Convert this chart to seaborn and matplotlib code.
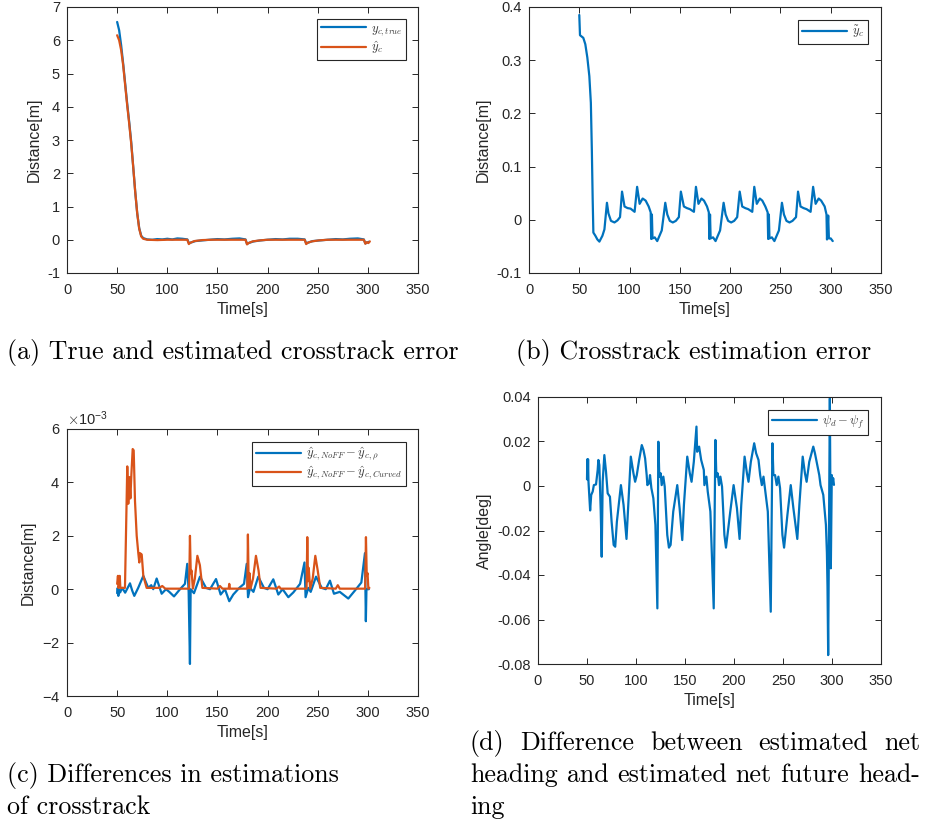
import matplotlib
matplotlib.use("Agg")
import numpy as np
import pandas as pd
import seaborn as sns
import matplotlib.pyplot as plt
from matplotlib.ticker import MultipleLocator, FuncFormatter, ScalarFormatter

# ---------------------------------------------------------------- data
# (a) true and estimated crosstrack error [m]
t_true = [50, 52, 54, 56, 58, 60, 62, 64, 66, 68,
          70, 72, 74, 76, 80, 85, 90, 95, 100, 105,
          110, 115, 120, 121.5, 124, 128, 135, 142, 150, 157,
          165, 172, 178, 179.5, 182, 186, 193, 200, 208, 215,
          222, 230, 237, 238.5, 241, 245, 252, 260, 268, 275,
          282, 290, 296, 297.5, 299, 301]
y_true = [6.55, 6.3, 5.85, 5.3, 4.7, 4.1, 3.55, 2.95, 2.2, 1.45,
          0.8, 0.35, 0.12, 0.05, 0.01, 0.0, 0.02, 0.01, 0.03, 0.01,
          0.04, 0.03, 0.01, -0.1, -0.08, -0.04, -0.02, 0.0, 0.02, 0.01,
          0.03, 0.04, 0.01, -0.12, -0.09, -0.05, -0.02, 0.0, 0.02, 0.01,
          0.03, 0.03, 0.01, -0.11, -0.08, -0.04, -0.02, 0.0, 0.02, 0.01,
          0.03, 0.04, 0.01, -0.11, -0.09, -0.06]

t_est = [50, 52, 54, 56, 58, 60, 62, 64, 66, 68,
         70, 72, 74, 76, 80, 90, 100, 110, 120, 121.5,
         123, 127, 135, 145, 160, 178, 179.5, 181, 185, 192,
         200, 215, 237, 238.5, 240, 244, 251, 260, 280, 296,
         297.5, 299, 300.5, 302]
y_est = [6.15, 6.0, 5.7, 5.25, 4.65, 4.05, 3.5, 2.9, 2.2, 1.45,
         0.8, 0.33, 0.1, 0.03, 0.0, -0.01, 0.0, 0.0, 0.0, -0.13,
         -0.09, -0.04, -0.01, 0.0, 0.0, 0.0, -0.14, -0.1, -0.05, -0.02,
         0.0, 0.0, 0.0, -0.13, -0.09, -0.05, -0.02, 0.0, 0.0, 0.0,
         -0.12, -0.07, -0.1, -0.05]

# (b) crosstrack estimation error [m]
t_err = [50.0, 50.7, 52.0, 54.0, 56.0, 58.0, 60.0, 61.5, 62.5, 63.3,
         64.0, 66.0, 68.0, 70.0, 73.0, 75.0, 77.5, 79.0, 81.5, 85.0,
         88.0, 90.5, 92.5, 95.0, 98.0, 101.0, 105.0, 107.5, 110.0, 113.0,
         116.0, 119.0, 121.0, 121.5, 122.2, 122.8, 125.0, 127.5, 132.0, 135.5,
         137.5, 140.0, 143.0, 146.0, 149.0, 151.0, 154.0, 157.0, 160.0, 164.0,
         166.0, 168.5, 171.5, 174.0, 177.0, 178.8, 179.3, 180.0, 180.6, 183.0,
         185.5, 190.0, 193.5, 195.5, 198.0, 201.0, 204.0, 207.0, 209.5, 212.0,
         215.0, 218.0, 222.0, 224.0, 226.5, 229.5, 232.0, 235.0, 237.3, 237.8,
         238.5, 239.1, 241.5, 244.0, 248.5, 251.5, 253.5, 256.0, 259.0, 262.0,
         265.5, 267.5, 270.0, 273.0, 276.0, 280.0, 282.5, 285.0, 288.0, 290.5,
         294.0, 295.8, 296.3, 297.5, 298.2, 300.0, 302.0]
y_err = [0.385, 0.347, 0.345, 0.342, 0.33, 0.305, 0.27, 0.22, 0.13, 0.04,
         -0.024, -0.03, -0.037, -0.041, -0.03, -0.018, 0.032, 0.012, -0.002, -0.005,
         -0.001, 0.005, 0.053, 0.025, 0.022, 0.021, 0.015, 0.062, 0.03, 0.04,
         0.036, 0.025, 0.014, -0.036, 0.01, -0.035, -0.033, -0.04, -0.02, 0.032,
         0.01, -0.002, -0.005, -0.002, 0.005, 0.053, 0.025, 0.022, 0.02, 0.015,
         0.062, 0.03, 0.04, 0.036, 0.025, 0.014, -0.036, 0.01, -0.035, -0.033,
         -0.04, -0.02, 0.032, 0.01, -0.002, -0.005, -0.002, 0.005, 0.053, 0.025,
         0.022, 0.02, 0.015, 0.062, 0.03, 0.04, 0.036, 0.025, 0.014, -0.036,
         0.01, -0.035, -0.033, -0.04, -0.02, 0.032, 0.01, -0.002, -0.005, -0.002,
         0.005, 0.053, 0.025, 0.022, 0.02, 0.015, 0.062, 0.03, 0.04, 0.036,
         0.025, 0.01, -0.037, 0.008, -0.035, -0.035, -0.04]

# (c) differences between estimators, in units of 1e-3 m
t_rho = [50.0, 50.6, 51.2, 51.8, 53.0, 55.0, 58.0, 60.5, 62.8, 65.0,
         67.1, 71.0, 76.1, 81.0, 84.0, 86.0, 89.4, 94.4, 98.7, 102.0,
         106.7, 112.7, 117.6, 119.9, 121.3, 122.6, 123.3, 126.6, 132.6, 138.6,
         142.6, 148.6, 153.2, 157.5, 161.8, 165.8, 171.8, 176.5, 179.2, 180.5,
         182.5, 185.9, 190.7, 196.4, 200.0, 205.7, 210.7, 215.0, 220.7, 225.7,
         232.4, 236.8, 237.9, 240.6, 243.0, 248.3, 254.0, 258.0, 262.2, 266.2,
         272.0, 280.5, 288.2, 293.5, 297.1, 298.0, 298.6, 301.0]
d_rho_milli = [-0.15, 0.05, -0.25, 0.0, -0.12, 0.05, -0.13, 0.05, 0.22, -0.05,
               -0.25, 0.05, 0.5, 0.05, 0.15, 0.0, 0.4, -0.17, 0.0, -0.1,
               -0.27, 0.0, 0.2, 0.95, -0.1, -2.8, 0.0, -0.15, 0.47, 0.05,
               0.0, 0.38, -0.2, 0.0, -0.45, -0.2, 0.05, 0.2, 0.95, -0.3,
               0.05, -0.1, 0.47, 0.05, 0.0, 0.37, -0.2, 0.0, -0.3, -0.12,
               0.2, 1.0, -0.3, 0.05, -0.1, 0.47, 0.05, 0.0, 0.32, -0.17,
               -0.1, -0.35, 0.0, 0.25, 1.35, -1.2, 0.0, 0.0]

t_curv = [50.0, 50.8, 51.3, 52.0, 52.6, 53.2, 57.8, 60.1, 61.1, 62.1,
          63.2, 64.2, 65.5, 66.5, 67.8, 69.5, 71.1, 72.1, 72.8, 74.5,
          76.1, 79.4, 92.0, 95.0, 98.0, 121.8, 122.6, 123.4, 124.2, 125.5,
          127.5, 130.0, 132.5, 135.0, 150.0, 152.5, 155.0, 161.2, 161.8, 162.5,
          179.8, 180.4, 181.2, 182.0, 183.0, 185.5, 188.4, 191.0, 193.0, 209.0,
          211.5, 213.0, 238.9, 239.6, 240.3, 241.0, 242.5, 245.0, 247.6, 250.0,
          252.5, 268.0, 270.0, 272.0, 297.3, 298.1, 298.9, 299.7, 300.5, 301.5]
d_curv_milli = [0.2, 0.5, 0.05, 0.15, 0.5, 0.05, 0.05, 4.6, 3.2, 4.2,
                3.4, 4.3, 5.25, 5.2, 3.3, 2.0, 1.35, 1.0, 1.35, 1.3,
                0.5, 0.05, 0.05, 0.12, 0.02, 0.02, 2.0, 0.6, 0.7, 0.02,
                0.4, 1.25, 0.9, 0.05, 0.02, 0.12, 0.02, 0.02, 0.2, 0.02,
                0.02, 2.05, 0.05, 0.6, 0.02, 0.4, 1.25, 0.7, 0.05, 0.02,
                0.1, 0.02, 0.02, 1.95, 0.3, 0.8, 0.02, 0.4, 1.25, 0.7,
                0.05, 0.02, 0.15, 0.02, 0.02, 1.95, 0.5, 0.6, 0.02, 0.05]

# (d) estimated net heading minus estimated net future heading [deg]
t_head = [50.0, 50.3, 50.7, 51.1, 51.5, 53.2, 54.3, 55.8, 57.0, 59.2,
          60.9, 61.6, 62.6, 64.0, 65.0, 66.0, 67.7, 69.4, 71.1, 73.4,
          75.1, 77.2, 78.8, 80.5, 84.6, 87.3, 90.3, 94.7, 97.4, 99.1,
          100.8, 103.2, 105.9, 107.6, 109.3, 110.9, 111.6, 113.3, 114.3, 115.7,
          117.7, 119.8, 121.8, 122.8, 123.8, 125.2, 126.2, 127.9, 129.3, 131.9,
          133.6, 135.3, 138.0, 142.1, 144.5, 147.2, 148.9, 152.3, 154.9, 156.7,
          159.0, 161.7, 162.4, 164.4, 166.5, 169.2, 169.8, 171.8, 173.2, 175.9,
          179.3, 181.0, 182.0, 183.4, 184.7, 186.1, 187.8, 190.2, 191.8, 196.2,
          199.6, 203.0, 205.7, 207.4, 210.8, 213.2, 214.8, 217.2, 220.6, 222.6,
          225.0, 226.7, 228.4, 230.1, 231.8, 234.5, 237.5, 239.2, 240.2, 241.9,
          243.6, 245.3, 247.0, 249.4, 251.1, 254.5, 257.9, 260.6, 264.6, 266.7,
          270.1, 272.4, 274.1, 276.8, 280.9, 282.6, 285.0, 287.0, 288.3, 291.1,
          293.8, 294.8, 295.4, 296.1, 297.8, 298.8, 299.8, 300.5, 301.2, 302.0]
d_head = [0.003, 0.012, 0.003, 0.012, 0.002, -0.011, -0.004, -0.0025, 0.0004, 0.0007,
          0.0072, 0.0117, 0.0094, -0.011, -0.0318, 0.002, 0.0139, 0.0064, -0.0033, -0.0048,
          -0.016, -0.0265, -0.0273, -0.016, 0.0004, -0.0085, -0.0238, 0.0132, 0.0057, 0.0019,
          0.0049, 0.0117, 0.0184, 0.0162, 0.0124, 0.0049, 0.0004, 0.0012, 0.0049, -0.001,
          -0.0055, -0.0175, -0.055, 0.0199, 0.0042, 0.0057, 0.0004, 0.0042, -0.0003, -0.022,
          -0.0277, -0.0265, -0.0115, 0.0004, -0.010, -0.0243, -0.0085, 0.0132, 0.0057, 0.0019,
          0.0109, 0.0267, 0.0154, 0.0177, 0.0117, 0.0072, 0.0004, 0.0042, -0.0025, -0.0115,
          -0.055, 0.0207, 0.0042, 0.0057, 0.0004, 0.0042, -0.0003, -0.022, -0.0277, -0.0115,
          0.0004, -0.010, -0.0238, -0.0085, 0.0132, 0.0057, 0.0019, 0.0109, 0.0192, 0.0147,
          0.0117, 0.0049, 0.0004, 0.0042, -0.0018, -0.0115, -0.0565, 0.0192, 0.0049, 0.0049,
          0.0004, 0.0042, -0.001, -0.022, -0.0277, -0.013, 0.0004, -0.010, -0.0238, -0.0085,
          0.0132, 0.0057, 0.0019, 0.0109, 0.0177, 0.0147, 0.0094, 0.0049, 0.0004, -0.004,
          -0.0175, -0.030, -0.045, -0.076, 0.0394, -0.037, 0.0049, 0.001, 0.0035, 0.0005]

x_ticks = [0, 50, 100, 150, 200, 250, 300, 350]

captions_a = "(a) True and estimated crosstrack error"
captions_b = "(b) Crosstrack estimation error"
captions_c = ["(c) Differences in estimations", "of crosstrack"]
captions_d = ["(d) Difference between estimated net",
              "heading and estimated net future head-",
              "ing"]

# ---------------------------------------------------------------- style
BLUE = "#0072BD"
ORANGE = "#D95319"
INK = "#262626"

sns.set_theme(style="ticks")
plt.rcParams.update({
    "font.family": ["Liberation Sans", "DejaVu Sans"],
    "mathtext.fontset": "cm",
    "axes.unicode_minus": False,
    "axes.edgecolor": INK,
    "axes.linewidth": 0.8,
    "axes.labelcolor": INK,
    "text.color": INK,
    "xtick.color": INK,
    "ytick.color": INK,
    "xtick.direction": "in",
    "ytick.direction": "in",
    "xtick.top": True,
    "ytick.right": True,
    "xtick.major.size": 4,
    "ytick.major.size": 4,
    "xtick.major.width": 0.7,
    "ytick.major.width": 0.7,
    "xtick.labelsize": 10.5,
    "ytick.labelsize": 10.5,
    "axes.labelsize": 11.5,
})

W, H = 925, 825
fig = plt.figure(figsize=(W / 100, H / 100), dpi=100)


def px_axes(left, top, right, bottom):
    return fig.add_axes([left / W, 1 - bottom / H, (right - left) / W, (bottom - top) / H])


ax_a = px_axes(67, 7, 418, 273)
ax_b = px_axes(529, 7, 881, 273)
ax_c = px_axes(67, 429, 418, 696)
ax_d = px_axes(538, 397, 881, 664)

LW = 1.6


def draw(ax, t, v, color, label):
    sns.lineplot(x=t, y=v, ax=ax, color=color, linewidth=LW, label=label,
                 sort=False, estimator=None)


draw(ax_a, t_true, y_true, BLUE, r"$y_{c,true}$")
draw(ax_a, t_est, y_est, ORANGE, r"$\hat{y}_c$")
draw(ax_b, t_err, y_err, BLUE, r"$\tilde{y}_c$")
draw(ax_c, t_rho, np.array(d_rho_milli) * 1e-3, BLUE,
     r"$\hat{y}_{c,NoFF}-\hat{y}_{c,\rho}$")
draw(ax_c, t_curv, np.array(d_curv_milli) * 1e-3, ORANGE,
     r"$\hat{y}_{c,NoFF}-\hat{y}_{c,Curved}$")
draw(ax_d, t_head, d_head, BLUE, r"$\psi_d-\psi_f$")


def plain(v, _):
    v = round(v, 6) + 0.0
    return f"{v:g}"


def finish(ax, ylim, ystep, ylabel, legend_anchor, fmt=None):
    ax.set_xlim(0, 350)
    ax.set_ylim(*ylim)
    ax.set_xticks(x_ticks)
    ax.yaxis.set_major_locator(MultipleLocator(ystep))
    ax.xaxis.set_major_formatter(FuncFormatter(plain))
    ax.yaxis.set_major_formatter(fmt if fmt is not None else FuncFormatter(plain))
    ax.tick_params(axis="x", pad=7.5)
    ax.tick_params(axis="y", pad=5)
    for s in ax.spines.values():
        s.set_visible(True)
        s.set_color(INK)
        s.set_linewidth(0.8)
    ax.set_xlabel("Time[s]", labelpad=3)
    ax.set_ylabel(ylabel, labelpad=4)
    leg = ax.legend(loc="upper right", bbox_to_anchor=legend_anchor, borderaxespad=0,
                    fontsize=9, handlelength=3.6, handletextpad=0.4,
                    borderpad=0.3, labelspacing=0.15, frameon=True, fancybox=False,
                    framealpha=1, edgecolor=INK)
    leg.get_frame().set_linewidth(0.8)
    for txt in leg.get_texts():
        txt.set_color("#3a3a3a")


finish(ax_a, (-1, 7), 1, "Distance[m]", (0.966, 0.955))
finish(ax_b, (-0.1, 0.4), 0.1, "Distance[m]", (0.963, 0.951))
sci = ScalarFormatter(useMathText=True)
sci.set_powerlimits((0, 0))
finish(ax_c, (-0.004, 0.006), 0.002, "Distance[m]", (0.966, 0.951), fmt=sci)
ax_c.yaxis.get_offset_text().set_fontsize(10.5)
finish(ax_d, (-0.08, 0.04), 0.02, "Angle[deg]", (0.962, 0.951))

# ---------------------------------------------------------------- captions
CAP = dict(family="cmr10", fontsize=18.7, color="black", va="baseline", ha="left")


def caption(text, x, y):
    return fig.text(x / W, 1 - y / H, text, **CAP)


def caption_justified(text, x0, x1, y):
    renderer = fig.canvas.get_renderer()
    words = text.split(" ")
    items = [fig.text(0, 1 - y / H, w, **CAP) for w in words]
    widths = [it.get_window_extent(renderer).width for it in items]
    gap = (x1 - x0 - sum(widths)) / (len(words) - 1)
    x = x0
    for it, w in zip(items, widths):
        it.set_x(x / W)
        x += w + gap


caption(captions_a, 7, 359)
caption(captions_b, 516, 359)
caption(captions_c[0], 7, 782)
caption(captions_c[1], 7, 814)
caption_justified(captions_d[0], 470, 920, 750)
caption_justified(captions_d[1], 470, 920, 782)
caption(captions_d[2], 470, 814)

fig.savefig("out.png", dpi=100, facecolor="white")
